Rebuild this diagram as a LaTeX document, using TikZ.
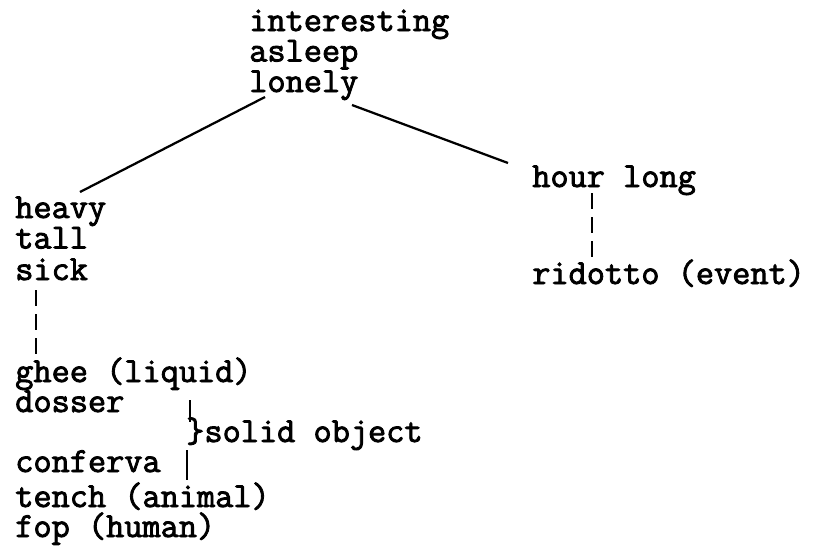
\documentclass[tikz,border=0pt]{standalone}
\usepackage{fontspec}
\newfontfamily\typewriter{Latin Modern Mono}[FakeBold=2.4]
\usetikzlibrary{positioning}
\tikzset{
  word/.style={font=\typewriter\fontsize{25.1pt}{21.3pt}\selectfont, inner sep=0pt, anchor=base west, text height=14pt, text depth=4pt},
  treeline/.style={line width=1.6pt},
  dashlink/.style={line width=1.6pt, dash pattern=on 11.4pt off 5.7pt},
  bracearm/.style={line width=1.5pt}
}
\begin{document}
\begin{tikzpicture}[x=0.025cm, y=-0.025cm]
  \useasboundingbox (0,0) rectangle (817,549);
  \node[word] (interesting) at (249,31) {interesting};
  \node[word] (asleep) at (249,61.5) {asleep};
  \node[word] (lonely) at (249,92) {lonely};
  \node[word] (heavy) at (15,218) {heavy};
  \node[word] (tall) at (15,248.5) {tall};
  \node[word] (sick) at (15,280) {sick};
  \node[word] (hour) at (532,187) {hour long};
  \node[word] (ridotto) at (532,284) {ridotto (event)};
  \node[word] (ghee) at (15,382) {ghee (liquid)};
  \node[word] (dosser) at (15,412) {dosser};
  \node[word] (solid) at (186,442) {\}solid object};
  \node[word] (conferva) at (15,472) {conferva};
  \node[word] (tench) at (15,507) {tench (animal)};
  \node[word] (fop) at (15,537) {fop (human)};
  \draw[treeline] ([shift={(16,5)}]lonely.base west) -- ([shift={(65,-26)}]heavy.base west);
  \draw[treeline] ([shift={(103,13)}]lonely.base west) -- ([shift={(-24,-24)}]hour.base west);
  \draw[dashlink] ([shift={(21,10)}]sick.base west) -- ([shift={(21,-27)}]ghee.base west);
  \draw[dashlink] ([shift={(60,6)}]hour.base west) -- ([shift={(60,-24)}]ridotto.base west);
  \draw[bracearm] ([shift={(4,-42)}]solid.base west) -- ([shift={(4,-20)}]solid.base west);
  \draw[bracearm] ([shift={(1,8)}]solid.base west) -- ([shift={(1,38)}]solid.base west);
\end{tikzpicture}
\end{document}
